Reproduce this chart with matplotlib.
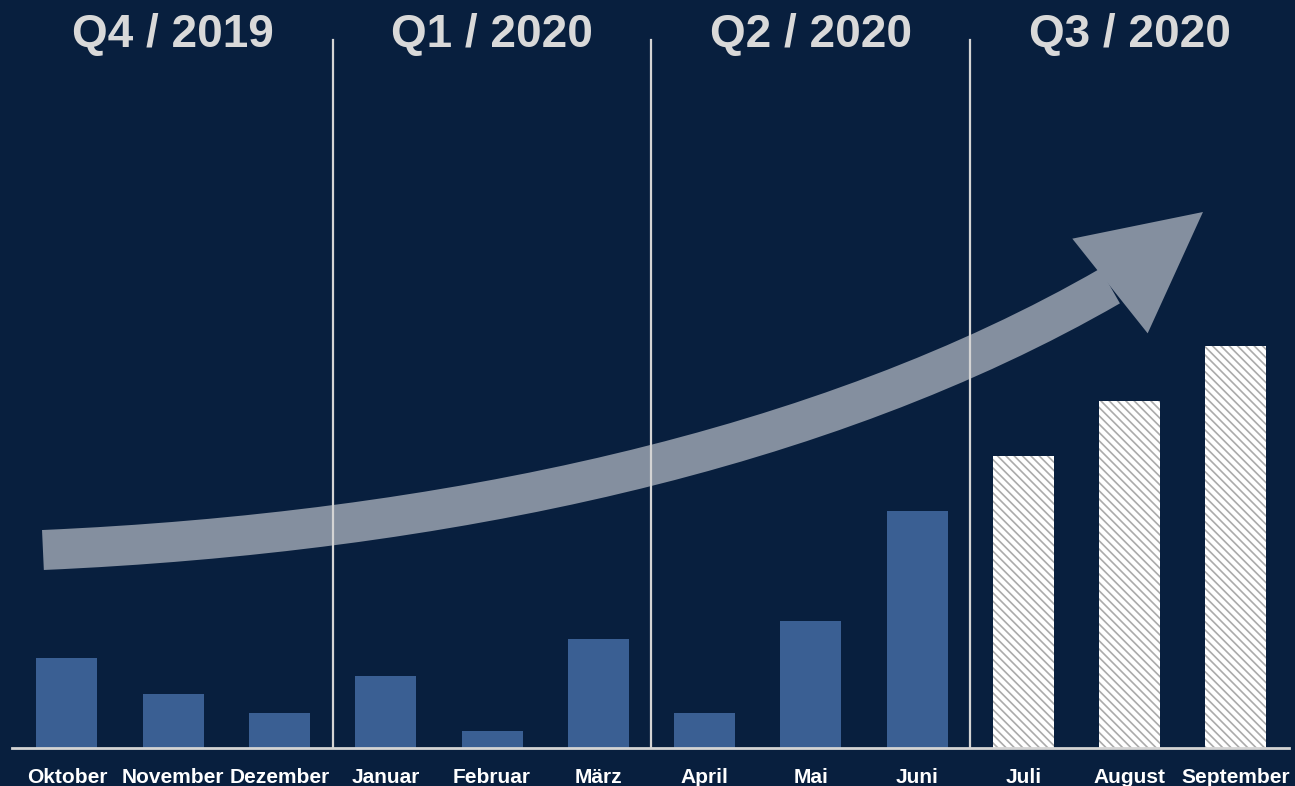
import matplotlib
matplotlib.use("Agg")
import matplotlib.pyplot as plt
import numpy as np
from matplotlib.path import Path
from matplotlib.patches import PathPatch, Polygon

# monthly values, Oct 2019 - Sep 2020 (last quarter shown as forecast)
months = ["Oktober", "November", "Dezember", "Januar", "Februar", "März",
          "April", "Mai", "Juni", "Juli", "August", "September"]
values = [90, 54, 35, 72, 17, 109, 35, 127, 237, 292, 347, 402]
forecast = [False] * 9 + [True] * 3
quarters = ["Q4 / 2019", "Q1 / 2020", "Q2 / 2020", "Q3 / 2020"]

bg = "#081f3e"
bar_col = "#3a5f93"
line_col = "#d4d4d4"
arrow_col = "#848f9f"

plt.rcParams["font.family"] = ["Liberation Sans", "DejaVu Sans"]
plt.rcParams["hatch.linewidth"] = 1.2

def growth_arrow(ax, pts, tip, shaft_pt, head_px):
	# curved shaft as a thick cubic bezier stroke
	codes = [Path.MOVETO, Path.CURVE4, Path.CURVE4, Path.CURVE4]
	shaft = PathPatch(Path(pts, codes), fill=False, edgecolor=arrow_col,
					  lw=shaft_pt, capstyle="butt", zorder=3)
	ax.add_patch(shaft)

	# straight triangular head, built in pixel space
	to_px = ax.transData
	b = to_px.transform(pts[-1])
	t = to_px.transform(tip)
	d = (t - b) / np.hypot(*(t - b))
	n = np.array([-d[1], d[0]])
	tri = np.array([t, b + n * head_px / 2, b - n * head_px / 2])
	head = Polygon(to_px.inverted().transform(tri), closed=True,
				   facecolor=arrow_col, edgecolor="none", zorder=3)
	ax.add_patch(head)

def plot():
	fig = plt.figure(figsize=(12.95, 7.86), dpi=100, facecolor=bg)
	ax = fig.add_axes([0, 38 / 786, 1, 748 / 786])
	ax.set_facecolor(bg)
	ax.set_xlim(-0.63, 11.556)
	ax.set_ylim(0, 748)
	ax.axis("off")

	x = np.arange(len(months))

	# actual months: solid bars, forecast months: hatched white bars
	for xi, v, fc in zip(x, values, forecast):
		if fc:
			ax.bar(xi, v, width=0.574, color="white", edgecolor="#ababab",
				   hatch="\\\\\\\\", linewidth=0, zorder=2)
		else:
			ax.bar(xi, v, width=0.574, color=bar_col, linewidth=0, zorder=2)

	# growth arrow across the whole period
	growth_arrow(ax, [(-0.226, 198), (3.534, 215.5), (7.125, 297), (9.815, 462)],
				 (10.69, 536), shaft_pt=28.8, head_px=121)

	# quarter separators and baseline
	for q in range(1, 4):
		ax.plot([3 * q - 0.5, 3 * q - 0.5], [0, 708], color=line_col, lw=1.6, zorder=4)
	ax.plot([-0.52, 11.5], [0, 0], color=line_col, lw=2, zorder=4, clip_on=False)

	for i, q in enumerate(quarters):
		ax.text(3 * i + 1, 701, q, ha="center", va="baseline", fontsize=33,
				fontweight="bold", color="#d9d9d9")

	for xi, m in zip(x, months):
		ax.text(xi, -35, m, ha="center", va="baseline", fontsize=15,
				fontweight="bold", color="white", clip_on=False)

	fig.savefig("out.png", dpi=100, facecolor=bg)

if __name__ == "__main__":
	plot()
